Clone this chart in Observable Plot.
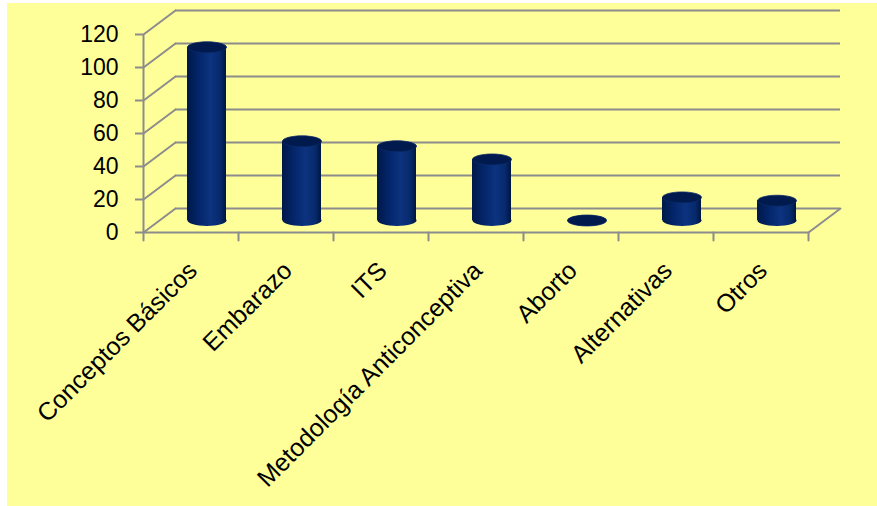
<!DOCTYPE html>
<html><head><meta charset="utf-8">
<script src="https://cdn.jsdelivr.net/npm/d3@7"></script>
<script src="https://cdn.jsdelivr.net/npm/@observablehq/plot@0.6"></script>
<style>
body{margin:0;background:#fff;}
#chart{position:absolute;left:7px;top:3px;width:870px;height:503px;background:#ffff99;}
</style></head><body><div id="chart"></div>
<script>
const categories = ["Conceptos Básicos","Embarazo","ITS","Metodología Anticonceptiva","Aborto","Alternativas","Otros"];
const values = [105, 48, 45, 37, 0, 14, 12];
const yTicks = [0, 20, 40, 60, 80, 100, 120];

const data = categories.map((c, i) => ({c, v: values[i]}));

// 3D depth offsets (pixels)
const DX = 32, DY = -24;
const HALF = 95 / 2;
const grid = "#8c8c8c";

const ellipse = {draw(ctx, size) {
  const rx = Math.sqrt(size / Math.PI), ry = rx * 0.28, k = 0.5523;
  ctx.moveTo(-rx, 0);
  ctx.bezierCurveTo(-rx, -ry * k, -rx * k, -ry, 0, -ry);
  ctx.bezierCurveTo(rx * k, -ry, rx, -ry * k, rx, 0);
  ctx.bezierCurveTo(rx, ry * k, rx * k, ry, 0, ry);
  ctx.bezierCurveTo(-rx * k, ry, -rx, ry * k, -rx, 0);
  ctx.closePath();
}};
const seg = {draw(ctx, l) { ctx.moveTo(0, 0); ctx.lineTo(0, -l); }};

const defs = () => {
  const d = d3.create("svg:defs");
  const g = d.append("linearGradient").attr("id", "cyl").attr("x1", 0).attr("x2", 1).attr("y1", 0).attr("y2", 0);
  [[0, "#001848"], [0.3, "#03256a"], [0.6, "#0d3380"], [0.85, "#062a6c"], [1, "#001540"]]
    .forEach(([o, c]) => g.append("stop").attr("offset", o).attr("stop-color", c));
  return d.node();
};

const plot = Plot.plot({
  width: 870,
  height: 503,
  marginLeft: 136,
  marginRight: 69,
  marginTop: 31,
  marginBottom: 274,
  style: {background: "transparent", fontFamily: "'Liberation Sans', Arial, sans-serif", color: "#000", overflow: "visible"},
  x: {domain: categories, padding: 0, label: null},
  y: {domain: [0, 120], label: null},
  marks: [
    defs,
    // back wall gridlines
    Plot.ruleY(yTicks, {dx: DX, dy: DY, stroke: grid, strokeWidth: 2}),
    // side wall diagonals
    Plot.vector(yTicks, {y: d => d, frameAnchor: "left", length: 40, rotate: 53.13, anchor: "start", shape: seg, stroke: grid, strokeWidth: 2}),
    Plot.vector([0], {y: d => d, frameAnchor: "right", length: 40, rotate: 53.13, anchor: "start", shape: seg, stroke: grid, strokeWidth: 2}),
    // front floor edge and axis line
    Plot.ruleY([0], {stroke: grid, strokeWidth: 2}),
    Plot.link([categories[0]], {x1: d => d, x2: d => d, y1: 0, y2: 120, dx: -HALF, stroke: grid, strokeWidth: 2}),
    Plot.vector(categories, {x: d => d, y: 0, dx: HALF, length: 8, rotate: 180, anchor: "start", shape: seg, stroke: grid, strokeWidth: 2}),
    Plot.vector([categories[0]], {x: d => d, y: 0, dx: -HALF, length: 8, rotate: 180, anchor: "start", shape: seg, stroke: grid, strokeWidth: 2}),
    // cylinders
    Plot.dot(data, {x: "c", y: 0, r: 19.5, symbol: ellipse, fill: "url(#cyl)", dx: DX / 2, dy: DY / 2}),
    Plot.barY(data, {x: "c", y1: 0, y2: "v", insetLeft: 28, insetRight: 28, fill: "url(#cyl)", dx: DX / 2, dy: DY / 2}),
    Plot.dot(data, {x: "c", y: "v", r: 19.5, symbol: ellipse, fill: "#001a4e", stroke: "#0a2a6a", strokeWidth: 0.8, dx: DX / 2, dy: DY / 2}),
    // axes
    Plot.axisY(yTicks, {tickSize: 8, tickPadding: 17, fontSize: 23, stroke: grid, strokeWidth: 2, strokeOpacity: 1, fill: "#000", label: null}),
    Plot.axisX({tickSize: 0, tickPadding: 34, tickRotate: -45, dx: 2, fontSize: 25, fill: "#000", label: null})
  ]
});
document.getElementById("chart").append(plot);
</script>
</body></html>
